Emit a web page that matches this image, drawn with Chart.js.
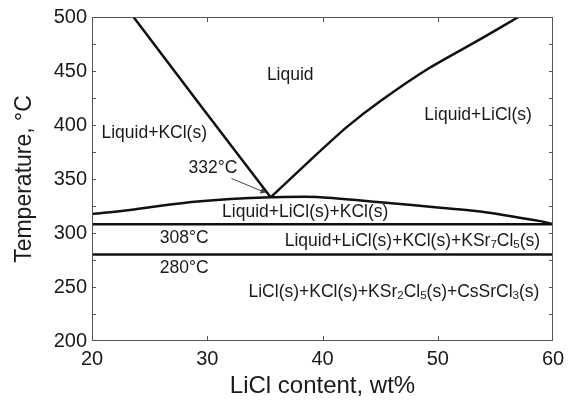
<!DOCTYPE html>
<html>
<head>
<meta charset="utf-8">
<script src="https://cdn.jsdelivr.net/npm/chart.js@4.4.1/dist/chart.umd.min.js"></script>
<style>
  html, body { margin: 0; padding: 0; background: #fff; }
  #wrap { width: 573px; height: 402px; }
</style>
</head>
<body>
<div id="wrap"><canvas id="phaseChart" width="573" height="402"></canvas></div>
<script>
// ── Phase boundaries (LiCl wt%, temperature °C) ──
const kclLiquidusX = [23.6, 29.5, 35.5];
const kclLiquidusY = [500, 417, 333];

const liclLiquidusX = [35.5, 39.2, 42.1, 45.0, 49.3, 53.7, 57.0];
const liclLiquidusY = [333, 370, 398, 422, 453, 479.5, 500];

const ternaryX = [20, 23.3, 27.6, 32.0, 35.5, 39.8, 45.0, 50.0, 53.7, 58.9, 60];
const ternaryY = [317.7, 321.4, 327.4, 331.4, 333, 333.2, 328.5, 323.6, 320, 311, 308.2];

const isoX = [20, 60];
const iso308 = [308, 308];
const iso280 = [280, 280];

const arrowX = [32.1, 34.8];
const arrowY = [350.5, 338.5];

const xTicks = [20, 30, 40, 50, 60];
const yTicks = [200, 250, 300, 350, 400, 450, 500];

// region labels, "_" marks a subscript digit
const labelText = ['Liquid', 'Liquid+KCl(s)', 'Liquid+LiCl(s)', '332°C', 'Liquid+LiCl(s)+KCl(s)',
  '308°C', '280°C', 'Liquid+LiCl(s)+KCl(s)+KSr_7Cl_5(s)', 'LiCl(s)+KCl(s)+KSr_2Cl_5(s)+CsSrCl_3(s)'];
const labelX = [37.2, 25.4, 53.5, 30.5, 38.5, 28, 28, 47.8, 46.2];
const labelY = [446.5, 392.7, 409.4, 360.2, 319.6, 295.2, 267.5, 292.7, 245.4];

const FONT = "'Liberation Sans', Arial, sans-serif";
const pts = (xs, ys) => xs.map((x, i) => ({ x, y: ys[i] }));

function curve(data, tension) {
  return {
    data,
    showLine: true,
    borderColor: '#111',
    borderWidth: 2.5,
    pointRadius: 0,
    tension: tension || 0,
    fill: false
  };
}

// ── frame, inward ticks and text labels ──
const decorPlugin = {
  id: 'decor',
  afterDatasetsDraw(chart) {
    const { ctx, chartArea: a, scales: { x, y } } = chart;
    ctx.save();
    ctx.strokeStyle = '#555';
    ctx.lineWidth = 1;
    ctx.strokeRect(a.left + 0.5, a.top + 0.5, a.right - a.left - 1, a.bottom - a.top - 1);
    ctx.beginPath();
    xTicks.slice(1, -1).forEach(v => {
      const px = Math.round(x.getPixelForValue(v)) + 0.5;
      ctx.moveTo(px, a.bottom); ctx.lineTo(px, a.bottom - 5);
      ctx.moveTo(px, a.top); ctx.lineTo(px, a.top + 5);
    });
    for (let v = 225; v < 500; v += 25) {
      const py = Math.round(y.getPixelForValue(v)) + 0.5;
      ctx.moveTo(a.left, py); ctx.lineTo(a.left + 4, py);
      ctx.moveTo(a.right, py); ctx.lineTo(a.right - 4, py);
    }
    ctx.stroke();

    ctx.fillStyle = '#1a1a1a';
    ctx.textBaseline = 'middle';
    ctx.textAlign = 'left';
    const size = 17.5, sub = 11.5;
    labelText.forEach((t, i) => {
      const parts = [];
      for (let k = 0; k < t.length; k++) {
        if (t[k] === '_') { parts.push({ s: t[k + 1], sub: true }); k++; }
        else parts.push({ s: t[k], sub: false });
      }
      let w = 0;
      parts.forEach(p => {
        ctx.font = (p.sub ? sub : size) + 'px ' + FONT;
        p.w = ctx.measureText(p.s).width;
        w += p.w;
      });
      let cx = x.getPixelForValue(labelX[i]) - w / 2;
      const cy = y.getPixelForValue(labelY[i]);
      parts.forEach(p => {
        ctx.font = (p.sub ? sub : size) + 'px ' + FONT;
        ctx.fillText(p.s, cx, p.sub ? cy + 4 : cy);
        cx += p.w;
      });
    });
    ctx.restore();
  }
};

new Chart(document.getElementById('phaseChart'), {
  type: 'scatter',
  data: {
    datasets: [
      curve(pts(kclLiquidusX, kclLiquidusY)),
      curve(pts(liclLiquidusX, liclLiquidusY), 0.2),
      curve(pts(ternaryX, ternaryY), 0.3),
      curve(pts(isoX, iso308)),
      curve(pts(isoX, iso280)),
      {
        data: pts(arrowX, arrowY),
        showLine: true,
        borderColor: '#444',
        borderWidth: 1,
        backgroundColor: '#444',
        pointStyle: 'triangle',
        pointRadius: [0, 3.5],
        rotation: [0, 113],
        pointBorderWidth: 0
      }
    ]
  },
  options: {
    responsive: false,
    animation: false,
    layout: { padding: { top: 17, right: 20, left: 0, bottom: 0 } },
    plugins: { legend: { display: false }, tooltip: { enabled: false } },
    scales: {
      x: {
        type: 'linear',
        min: 20, max: 60,
        afterFit: s => { s.height = 61; },
        afterBuildTicks: s => { s.ticks = xTicks.map(v => ({ value: v })); },
        grid: { display: false, drawTicks: false },
        border: { display: false },
        ticks: { padding: 6, color: '#1a1a1a', font: { family: FONT, size: 20 } },
        title: {
          display: true, text: 'LiCl content, wt%', color: '#1a1a1a',
          font: { family: FONT, size: 24 }, padding: { top: 0, bottom: 1 }
        }
      },
      y: {
        min: 200, max: 500,
        afterFit: s => { s.width = 92; },
        afterBuildTicks: s => { s.ticks = yTicks.map(v => ({ value: v })); },
        grid: { display: false, drawTicks: false },
        border: { display: false },
        ticks: { padding: 5, color: '#1a1a1a', font: { family: FONT, size: 20 } },
        title: {
          display: true, text: 'Temperature, °C', color: '#1a1a1a',
          font: { family: FONT, size: 23 }, padding: { top: 11, bottom: 0 }
        }
      }
    }
  },
  plugins: [decorPlugin]
});
</script>
</body>
</html>
